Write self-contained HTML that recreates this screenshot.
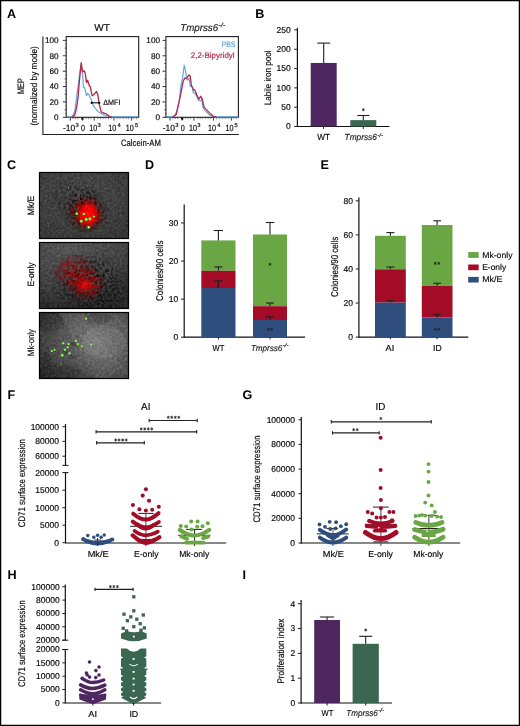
<!DOCTYPE html>
<html><head><meta charset="utf-8"><style>
html,body{margin:0;padding:0;background:#fff;width:520px;height:726px;overflow:hidden}
svg{display:block;font-family:"Liberation Sans", sans-serif;text-rendering:geometricPrecision;will-change:transform}
</style></head><body>
<svg width="520" height="726" viewBox="0 0 520 726">
<rect x="0" y="0" width="520" height="726" fill="#fff"/>
<text x="7" y="17.6" font-size="12.6" font-weight="bold" fill="#000" >A</text>
<text x="94.3" y="30.9" font-size="10" stroke="#231f20" stroke-width="0.18" textLength="15.6" lengthAdjust="spacingAndGlyphs" >WT</text>
<text x="180.2" y="31.2" font-size="10" font-style="italic" fill="#231f20" stroke="#231f20" stroke-width="0.18" textLength="38" lengthAdjust="spacingAndGlyphs">Tmprss6</text>
<text x="218.8" y="26.6" font-size="6" font-style="italic" stroke="#231f20" stroke-width="0.18" textLength="6.4" lengthAdjust="spacingAndGlyphs" >-/-</text>
<polyline points="42.9,36.6 42.9,134.5 238.9,134.5" fill="none" stroke="#231f20" stroke-width="1.1"/>
<text x="58.6" y="120.2" font-size="8.2" text-anchor="end" stroke="#231f20" stroke-width="0.18" >0</text>
<line x1="62.8" y1="117.3" x2="66.2" y2="117.3" stroke="#231f20" stroke-width="0.9" />
<line x1="64.6" y1="109.61" x2="66.2" y2="109.61" stroke="#231f20" stroke-width="0.8" />
<line x1="65" y1="113.45" x2="66.2" y2="113.45" stroke="#555" stroke-width="0.6" />
<line x1="65" y1="105.77" x2="66.2" y2="105.77" stroke="#555" stroke-width="0.6" />
<text x="58.6" y="104.82" font-size="8.2" text-anchor="end" stroke="#231f20" stroke-width="0.18" >20</text>
<line x1="62.8" y1="101.92" x2="66.2" y2="101.92" stroke="#231f20" stroke-width="0.9" />
<line x1="64.6" y1="94.23" x2="66.2" y2="94.23" stroke="#231f20" stroke-width="0.8" />
<line x1="65" y1="98.07" x2="66.2" y2="98.07" stroke="#555" stroke-width="0.6" />
<line x1="65" y1="90.39" x2="66.2" y2="90.39" stroke="#555" stroke-width="0.6" />
<text x="58.6" y="89.44" font-size="8.2" text-anchor="end" stroke="#231f20" stroke-width="0.18" >40</text>
<line x1="62.8" y1="86.54" x2="66.2" y2="86.54" stroke="#231f20" stroke-width="0.9" />
<line x1="64.6" y1="78.85" x2="66.2" y2="78.85" stroke="#231f20" stroke-width="0.8" />
<line x1="65" y1="82.69" x2="66.2" y2="82.69" stroke="#555" stroke-width="0.6" />
<line x1="65" y1="75.01" x2="66.2" y2="75.01" stroke="#555" stroke-width="0.6" />
<text x="58.6" y="74.06" font-size="8.2" text-anchor="end" stroke="#231f20" stroke-width="0.18" >60</text>
<line x1="62.8" y1="71.16" x2="66.2" y2="71.16" stroke="#231f20" stroke-width="0.9" />
<line x1="64.6" y1="63.47" x2="66.2" y2="63.47" stroke="#231f20" stroke-width="0.8" />
<line x1="65" y1="67.31" x2="66.2" y2="67.31" stroke="#555" stroke-width="0.6" />
<line x1="65" y1="59.63" x2="66.2" y2="59.63" stroke="#555" stroke-width="0.6" />
<text x="58.6" y="58.68" font-size="8.2" text-anchor="end" stroke="#231f20" stroke-width="0.18" >80</text>
<line x1="62.8" y1="55.78" x2="66.2" y2="55.78" stroke="#231f20" stroke-width="0.9" />
<line x1="64.6" y1="48.09" x2="66.2" y2="48.09" stroke="#231f20" stroke-width="0.8" />
<line x1="65" y1="51.93" x2="66.2" y2="51.93" stroke="#555" stroke-width="0.6" />
<line x1="65" y1="44.25" x2="66.2" y2="44.25" stroke="#555" stroke-width="0.6" />
<text x="58.6" y="43.3" font-size="8.2" text-anchor="end" stroke="#231f20" stroke-width="0.18" >100</text>
<line x1="62.8" y1="40.4" x2="66.2" y2="40.4" stroke="#231f20" stroke-width="0.9" />
<line x1="70.3" y1="117.3" x2="70.3" y2="120.6" stroke="#231f20" stroke-width="0.9" />
<line x1="82.4" y1="117.3" x2="82.4" y2="120.6" stroke="#231f20" stroke-width="0.9" />
<line x1="94.2" y1="117.3" x2="94.2" y2="120.6" stroke="#231f20" stroke-width="0.9" />
<line x1="113.9" y1="117.3" x2="113.9" y2="120.6" stroke="#231f20" stroke-width="0.9" />
<line x1="131.6" y1="117.3" x2="131.6" y2="120.6" stroke="#231f20" stroke-width="0.9" />
<line x1="73" y1="117.3" x2="73" y2="119.2" stroke="#444" stroke-width="0.6" />
<line x1="75.5" y1="117.3" x2="75.5" y2="119.2" stroke="#444" stroke-width="0.6" />
<line x1="78" y1="117.3" x2="78" y2="119.2" stroke="#444" stroke-width="0.6" />
<line x1="86" y1="117.3" x2="86" y2="119.2" stroke="#444" stroke-width="0.6" />
<line x1="88.5" y1="117.3" x2="88.5" y2="119.2" stroke="#444" stroke-width="0.6" />
<line x1="91" y1="117.3" x2="91" y2="119.2" stroke="#444" stroke-width="0.6" />
<line x1="98" y1="117.3" x2="98" y2="119.2" stroke="#444" stroke-width="0.6" />
<line x1="100.5" y1="117.3" x2="100.5" y2="119.2" stroke="#444" stroke-width="0.6" />
<line x1="103" y1="117.3" x2="103" y2="119.2" stroke="#444" stroke-width="0.6" />
<line x1="106" y1="117.3" x2="106" y2="119.2" stroke="#444" stroke-width="0.6" />
<line x1="108.5" y1="117.3" x2="108.5" y2="119.2" stroke="#444" stroke-width="0.6" />
<line x1="111" y1="117.3" x2="111" y2="119.2" stroke="#444" stroke-width="0.6" />
<line x1="117" y1="117.3" x2="117" y2="119.2" stroke="#444" stroke-width="0.6" />
<line x1="120" y1="117.3" x2="120" y2="119.2" stroke="#444" stroke-width="0.6" />
<line x1="123" y1="117.3" x2="123" y2="119.2" stroke="#444" stroke-width="0.6" />
<line x1="126" y1="117.3" x2="126" y2="119.2" stroke="#444" stroke-width="0.6" />
<line x1="128.5" y1="117.3" x2="128.5" y2="119.2" stroke="#444" stroke-width="0.6" />
<line x1="134" y1="117.3" x2="134" y2="119.2" stroke="#444" stroke-width="0.6" />
<line x1="136.5" y1="117.3" x2="136.5" y2="119.2" stroke="#444" stroke-width="0.6" />
<rect x="81.4" y="117.6" width="2.2" height="2" fill="#000" />
<text x="63" y="131.2" font-size="9" stroke="#231f20" stroke-width="0.18" textLength="12.2" lengthAdjust="spacingAndGlyphs" >-10</text>
<text x="75.6" y="127.4" font-size="5.8" stroke="#231f20" stroke-width="0.18" >3</text>
<text x="81" y="131.2" font-size="9" stroke="#231f20" stroke-width="0.18" textLength="4" lengthAdjust="spacingAndGlyphs" >0</text>
<text x="89.2" y="131.2" font-size="9" stroke="#231f20" stroke-width="0.18" textLength="8" lengthAdjust="spacingAndGlyphs" >10</text>
<text x="97.5" y="127.4" font-size="5.8" stroke="#231f20" stroke-width="0.18" >3</text>
<text x="108.2" y="131.2" font-size="9" stroke="#231f20" stroke-width="0.18" textLength="8" lengthAdjust="spacingAndGlyphs" >10</text>
<text x="117.5" y="127.4" font-size="5.8" stroke="#231f20" stroke-width="0.18" >4</text>
<text x="125.7" y="131.2" font-size="9" stroke="#231f20" stroke-width="0.18" textLength="8" lengthAdjust="spacingAndGlyphs" >10</text>
<text x="134.9" y="127.4" font-size="5.8" stroke="#231f20" stroke-width="0.18" >5</text>
<text x="160" y="120.2" font-size="8.2" text-anchor="end" stroke="#231f20" stroke-width="0.18" >0</text>
<line x1="162.5" y1="117.3" x2="165.9" y2="117.3" stroke="#231f20" stroke-width="0.9" />
<line x1="164.3" y1="109.61" x2="165.9" y2="109.61" stroke="#231f20" stroke-width="0.8" />
<line x1="164.7" y1="113.45" x2="165.9" y2="113.45" stroke="#555" stroke-width="0.6" />
<line x1="164.7" y1="105.77" x2="165.9" y2="105.77" stroke="#555" stroke-width="0.6" />
<text x="160" y="104.82" font-size="8.2" text-anchor="end" stroke="#231f20" stroke-width="0.18" >20</text>
<line x1="162.5" y1="101.92" x2="165.9" y2="101.92" stroke="#231f20" stroke-width="0.9" />
<line x1="164.3" y1="94.23" x2="165.9" y2="94.23" stroke="#231f20" stroke-width="0.8" />
<line x1="164.7" y1="98.07" x2="165.9" y2="98.07" stroke="#555" stroke-width="0.6" />
<line x1="164.7" y1="90.39" x2="165.9" y2="90.39" stroke="#555" stroke-width="0.6" />
<text x="160" y="89.44" font-size="8.2" text-anchor="end" stroke="#231f20" stroke-width="0.18" >40</text>
<line x1="162.5" y1="86.54" x2="165.9" y2="86.54" stroke="#231f20" stroke-width="0.9" />
<line x1="164.3" y1="78.85" x2="165.9" y2="78.85" stroke="#231f20" stroke-width="0.8" />
<line x1="164.7" y1="82.69" x2="165.9" y2="82.69" stroke="#555" stroke-width="0.6" />
<line x1="164.7" y1="75.01" x2="165.9" y2="75.01" stroke="#555" stroke-width="0.6" />
<text x="160" y="74.06" font-size="8.2" text-anchor="end" stroke="#231f20" stroke-width="0.18" >60</text>
<line x1="162.5" y1="71.16" x2="165.9" y2="71.16" stroke="#231f20" stroke-width="0.9" />
<line x1="164.3" y1="63.47" x2="165.9" y2="63.47" stroke="#231f20" stroke-width="0.8" />
<line x1="164.7" y1="67.31" x2="165.9" y2="67.31" stroke="#555" stroke-width="0.6" />
<line x1="164.7" y1="59.63" x2="165.9" y2="59.63" stroke="#555" stroke-width="0.6" />
<text x="160" y="58.68" font-size="8.2" text-anchor="end" stroke="#231f20" stroke-width="0.18" >80</text>
<line x1="162.5" y1="55.78" x2="165.9" y2="55.78" stroke="#231f20" stroke-width="0.9" />
<line x1="164.3" y1="48.09" x2="165.9" y2="48.09" stroke="#231f20" stroke-width="0.8" />
<line x1="164.7" y1="51.93" x2="165.9" y2="51.93" stroke="#555" stroke-width="0.6" />
<line x1="164.7" y1="44.25" x2="165.9" y2="44.25" stroke="#555" stroke-width="0.6" />
<text x="160" y="43.3" font-size="8.2" text-anchor="end" stroke="#231f20" stroke-width="0.18" >100</text>
<line x1="162.5" y1="40.4" x2="165.9" y2="40.4" stroke="#231f20" stroke-width="0.9" />
<line x1="170" y1="117.3" x2="170" y2="120.6" stroke="#231f20" stroke-width="0.9" />
<line x1="182.1" y1="117.3" x2="182.1" y2="120.6" stroke="#231f20" stroke-width="0.9" />
<line x1="193.9" y1="117.3" x2="193.9" y2="120.6" stroke="#231f20" stroke-width="0.9" />
<line x1="213.6" y1="117.3" x2="213.6" y2="120.6" stroke="#231f20" stroke-width="0.9" />
<line x1="231.3" y1="117.3" x2="231.3" y2="120.6" stroke="#231f20" stroke-width="0.9" />
<line x1="172.7" y1="117.3" x2="172.7" y2="119.2" stroke="#444" stroke-width="0.6" />
<line x1="175.2" y1="117.3" x2="175.2" y2="119.2" stroke="#444" stroke-width="0.6" />
<line x1="177.7" y1="117.3" x2="177.7" y2="119.2" stroke="#444" stroke-width="0.6" />
<line x1="185.7" y1="117.3" x2="185.7" y2="119.2" stroke="#444" stroke-width="0.6" />
<line x1="188.2" y1="117.3" x2="188.2" y2="119.2" stroke="#444" stroke-width="0.6" />
<line x1="190.7" y1="117.3" x2="190.7" y2="119.2" stroke="#444" stroke-width="0.6" />
<line x1="197.7" y1="117.3" x2="197.7" y2="119.2" stroke="#444" stroke-width="0.6" />
<line x1="200.2" y1="117.3" x2="200.2" y2="119.2" stroke="#444" stroke-width="0.6" />
<line x1="202.7" y1="117.3" x2="202.7" y2="119.2" stroke="#444" stroke-width="0.6" />
<line x1="205.7" y1="117.3" x2="205.7" y2="119.2" stroke="#444" stroke-width="0.6" />
<line x1="208.2" y1="117.3" x2="208.2" y2="119.2" stroke="#444" stroke-width="0.6" />
<line x1="210.7" y1="117.3" x2="210.7" y2="119.2" stroke="#444" stroke-width="0.6" />
<line x1="216.7" y1="117.3" x2="216.7" y2="119.2" stroke="#444" stroke-width="0.6" />
<line x1="219.7" y1="117.3" x2="219.7" y2="119.2" stroke="#444" stroke-width="0.6" />
<line x1="222.7" y1="117.3" x2="222.7" y2="119.2" stroke="#444" stroke-width="0.6" />
<line x1="225.7" y1="117.3" x2="225.7" y2="119.2" stroke="#444" stroke-width="0.6" />
<line x1="228.2" y1="117.3" x2="228.2" y2="119.2" stroke="#444" stroke-width="0.6" />
<line x1="233.7" y1="117.3" x2="233.7" y2="119.2" stroke="#444" stroke-width="0.6" />
<line x1="236.2" y1="117.3" x2="236.2" y2="119.2" stroke="#444" stroke-width="0.6" />
<rect x="181.1" y="117.6" width="2.2" height="2" fill="#000" />
<text x="162.7" y="131.2" font-size="9" stroke="#231f20" stroke-width="0.18" textLength="12.2" lengthAdjust="spacingAndGlyphs" >-10</text>
<text x="175.3" y="127.4" font-size="5.8" stroke="#231f20" stroke-width="0.18" >3</text>
<text x="180.7" y="131.2" font-size="9" stroke="#231f20" stroke-width="0.18" textLength="4" lengthAdjust="spacingAndGlyphs" >0</text>
<text x="188.9" y="131.2" font-size="9" stroke="#231f20" stroke-width="0.18" textLength="8" lengthAdjust="spacingAndGlyphs" >10</text>
<text x="197.2" y="127.4" font-size="5.8" stroke="#231f20" stroke-width="0.18" >3</text>
<text x="207.9" y="131.2" font-size="9" stroke="#231f20" stroke-width="0.18" textLength="8" lengthAdjust="spacingAndGlyphs" >10</text>
<text x="217.2" y="127.4" font-size="5.8" stroke="#231f20" stroke-width="0.18" >4</text>
<text x="225.4" y="131.2" font-size="9" stroke="#231f20" stroke-width="0.18" textLength="8" lengthAdjust="spacingAndGlyphs" >10</text>
<text x="234.6" y="127.4" font-size="5.8" stroke="#231f20" stroke-width="0.18" >5</text>
<text transform="translate(24.3 93.9) rotate(-90)" x="0" y="0" font-size="9.3" stroke="#231f20" stroke-width="0.18" textLength="15.6" lengthAdjust="spacingAndGlyphs" >MEP</text>
<text transform="translate(36.7 125.5) rotate(-90)" x="0" y="0" font-size="9.2" stroke="#231f20" stroke-width="0.18" textLength="79.3" lengthAdjust="spacingAndGlyphs" >(normalized by mode)</text>
<text x="121" y="145.6" font-size="9.2" stroke="#231f20" stroke-width="0.18" textLength="39.8" lengthAdjust="spacingAndGlyphs" >Calcein-AM</text>
<rect x="66.2" y="36.6" width="72.5" height="80.7" fill="none" stroke="#231f20" stroke-width="1.1"/>
<rect x="165.9" y="36.6" width="72.5" height="80.7" fill="none" stroke="#231f20" stroke-width="1.1"/>
<polyline points="66.7,116.9 71.3,116.9 73.5,114.5 75,109.7 76.5,98 78.6,82 80.9,64.8 82.6,73.4 83.4,87.2 84.3,87.2 85.3,90.3 86.5,95.7 87.6,93.4 88.8,94.2 90.3,98 91,98.7 93.2,105.3 95.5,108.5 97.6,111.2 100,112.8 102,114 105,115.3 107.8,116.3 110.8,116.9 138.3,116.9" fill="none" stroke="#5ba4e0" stroke-width="1.15" stroke-linejoin="round" />
<polyline points="72,117.2 74.5,115.5 75.7,111.5 77,105 78,98 79.5,80 81.2,62.6 82.6,71.8 83.8,70.7 84.5,71.5 85.3,73.4 86.5,82.6 87.6,80.3 88.4,82.6 89.2,85.7 90.3,86.8 92.2,95.7 94.2,94.2 96.5,91.5 97.6,94.2 98.4,98 99.1,103.8 101.3,111.9 104,113.2 106.4,114 109.3,116.3 111.5,117.2" fill="none" stroke="#b42844" stroke-width="1.3" stroke-linejoin="round" />
<polyline points="166.4,116.9 171.8,116.9 175,115.5 177,110 179.3,100.4 181,85.4 182.7,77.3 184.2,65.2 185.4,70.4 186.8,79 187.9,80.2 189.1,78.5 190.2,86.5 192,86.5 193.1,92.3 194.8,93.4 196.6,95.8 198.3,100.4 200.6,101 201.8,99.2 202.9,107.3 205.2,110.8 208.7,114.2 212.2,116.5 215,116.9 238.2,116.9" fill="none" stroke="#5ba4e0" stroke-width="1.15" stroke-linejoin="round" />
<polyline points="172.9,117.2 176.4,114.2 178.7,103.8 181,92.3 183.3,80.8 185,77.9 186.8,78.5 188,76.5 189.1,75 190.2,76.2 191.4,85.4 193.7,90 194.8,90 196.6,94.6 198.9,99.2 200.6,96.3 202.3,99.2 204.1,107.3 206.4,109.6 209.8,113.1 213.3,116.5 216,117.2" fill="none" stroke="#b42844" stroke-width="1.3" stroke-linejoin="round" />
<line x1="91.3" y1="102.8" x2="99.6" y2="102.8" stroke="#000" stroke-width="1" />
<circle cx="91.6" cy="102.8" r="1.1" fill="#000"/>
<circle cx="99.3" cy="102.8" r="1.1" fill="#000"/>
<text x="103.3" y="105.2" font-size="7.8" stroke="#231f20" stroke-width="0.18" textLength="17.2" lengthAdjust="spacingAndGlyphs" >&#916;MFI</text>
<text x="221.8" y="46.7" font-size="8" fill="#5ba4e0" stroke="#5ba4e0" stroke-width="0.18" textLength="13.4" lengthAdjust="spacingAndGlyphs" >PBS</text>
<text x="190.8" y="58.4" font-size="8" fill="#b42844" stroke="#b42844" stroke-width="0.18" textLength="43.8" lengthAdjust="spacingAndGlyphs" >2,2-Bipyridyl</text>
<text x="255.2" y="17.6" font-size="12.6" font-weight="bold" fill="#000" >B</text>
<line x1="297.4" y1="27.8" x2="297.4" y2="127" stroke="#111" stroke-width="1.2" />
<line x1="296.9" y1="126.5" x2="389.5" y2="126.5" stroke="#111" stroke-width="1.2" />
<line x1="294.2" y1="126.5" x2="297.4" y2="126.5" stroke="#231f20" stroke-width="1" />
<text x="290.7" y="129.4" font-size="8.5" text-anchor="end" stroke="#231f20" stroke-width="0.18" >0</text>
<line x1="294.2" y1="107.18" x2="297.4" y2="107.18" stroke="#231f20" stroke-width="1" />
<text x="290.7" y="110.08" font-size="8.5" text-anchor="end" stroke="#231f20" stroke-width="0.18" >50</text>
<line x1="294.2" y1="87.86" x2="297.4" y2="87.86" stroke="#231f20" stroke-width="1" />
<text x="290.7" y="90.76" font-size="8.5" text-anchor="end" stroke="#231f20" stroke-width="0.18" >100</text>
<line x1="294.2" y1="68.54" x2="297.4" y2="68.54" stroke="#231f20" stroke-width="1" />
<text x="290.7" y="71.44" font-size="8.5" text-anchor="end" stroke="#231f20" stroke-width="0.18" >150</text>
<line x1="294.2" y1="49.22" x2="297.4" y2="49.22" stroke="#231f20" stroke-width="1" />
<text x="290.7" y="52.12" font-size="8.5" text-anchor="end" stroke="#231f20" stroke-width="0.18" >200</text>
<line x1="294.2" y1="29.9" x2="297.4" y2="29.9" stroke="#231f20" stroke-width="1" />
<text x="290.7" y="32.8" font-size="8.5" text-anchor="end" stroke="#231f20" stroke-width="0.18" >250</text>
<rect x="310.7" y="62.94" width="26" height="63.56" fill="#4e2760" />
<rect x="350.3" y="120.12" width="26" height="6.38" fill="#3a6652" />
<line x1="323.7" y1="62.94" x2="323.7" y2="43.1" stroke="#231f20" stroke-width="1.1" />
<line x1="317.3" y1="43.1" x2="330.3" y2="43.1" stroke="#231f20" stroke-width="1.1" />
<line x1="363.3" y1="120.12" x2="363.3" y2="115.5" stroke="#231f20" stroke-width="1.1" />
<line x1="357.3" y1="115.5" x2="369.3" y2="115.5" stroke="#231f20" stroke-width="1.1" />
<path d="M363.3 108.55 l0 2.3 M362.3 109.12 l2 1.16 M362.3 110.28 l2 -1.16" stroke="#231f20" stroke-width="0.75" stroke-linecap="round"/>
<line x1="323.5" y1="126.5" x2="323.5" y2="128.9" stroke="#231f20" stroke-width="1" />
<line x1="363.3" y1="126.5" x2="363.3" y2="128.9" stroke="#231f20" stroke-width="1" />
<text x="317.2" y="140.4" font-size="8.8" stroke="#231f20" stroke-width="0.18" textLength="12.8" lengthAdjust="spacingAndGlyphs" >WT</text>
<text x="344.6" y="140.4" font-size="8.8" font-style="italic" fill="#231f20" stroke="#231f20" stroke-width="0.18" textLength="32.2" lengthAdjust="spacingAndGlyphs">Tmprss6</text>
<text x="377.2" y="136.6" font-size="5.2" font-style="italic" stroke="#231f20" stroke-width="0.18" textLength="5.8" lengthAdjust="spacingAndGlyphs" >-/-</text>
<text transform="translate(271.4 105.2) rotate(-90)" x="0" y="0" font-size="9.3" stroke="#231f20" stroke-width="0.18" textLength="54.6" lengthAdjust="spacingAndGlyphs" >Labile iron pool</text>
<text x="7" y="168.9" font-size="12.6" font-weight="bold" fill="#000" >C</text>
<defs>
<filter id="tex" x="0" y="0" width="100%" height="100%" color-interpolation-filters="sRGB">
<feTurbulence type="fractalNoise" baseFrequency="0.4" numOctaves="3" seed="4" result="t"/>
<feColorMatrix in="t" type="matrix" values="1 0 0 0 0  1 0 0 0 0  1 0 0 0 0  0 0 0 0 1" result="g"/>
<feComposite in="SourceGraphic" in2="g" operator="arithmetic" k1="0" k2="1" k3="0.2" k4="-0.1"/>
</filter>
<filter id="speck" x="-20%" y="-20%" width="140%" height="140%" color-interpolation-filters="sRGB">
<feTurbulence type="fractalNoise" baseFrequency="0.36" numOctaves="2" seed="5" result="n"/>
<feColorMatrix in="n" type="matrix" values="0 0 0 0 0  0 0 0 0 0  0 0 0 0 0  3.4 0 0 0 -1.35" result="a"/>
<feComposite in="SourceGraphic" in2="a" operator="in"/>
</filter>
<filter id="speck2" x="-20%" y="-20%" width="140%" height="140%" color-interpolation-filters="sRGB">
<feTurbulence type="fractalNoise" baseFrequency="0.27" numOctaves="2" seed="11" result="n"/>
<feColorMatrix in="n" type="matrix" values="0 0 0 0 0  0 0 0 0 0  0 0 0 0 0  3.0 0 0 0 -1.0" result="a"/>
<feComposite in="SourceGraphic" in2="a" operator="in"/>
</filter>
<radialGradient id="bg1" cx="0.45" cy="0.35" r="0.8"><stop offset="0" stop-color="#4c4c4c"/><stop offset="1" stop-color="#353535"/></radialGradient>
<radialGradient id="bg2" cx="0.35" cy="0.05" r="1.0"><stop offset="0" stop-color="#565656"/><stop offset="0.6" stop-color="#434343"/><stop offset="1" stop-color="#262626"/></radialGradient>
<radialGradient id="bg3" cx="0.66" cy="0.42" r="0.8"><stop offset="0" stop-color="#727272"/><stop offset="0.5" stop-color="#575757"/><stop offset="1" stop-color="#2e2e2e"/></radialGradient>
<radialGradient id="dk" cx="0.5" cy="0.5" r="0.5"><stop offset="0" stop-color="#000" stop-opacity="0.75"/><stop offset="0.6" stop-color="#000" stop-opacity="0.55"/><stop offset="1" stop-color="#000" stop-opacity="0"/></radialGradient>
<radialGradient id="rh" cx="0.5" cy="0.5" r="0.5"><stop offset="0" stop-color="#d00000" stop-opacity="1"/><stop offset="0.55" stop-color="#a00000" stop-opacity="0.85"/><stop offset="1" stop-color="#600000" stop-opacity="0"/></radialGradient>
<radialGradient id="rc" cx="0.5" cy="0.5" r="0.5"><stop offset="0" stop-color="#ff0a0a"/><stop offset="0.6" stop-color="#f00000" stop-opacity="0.95"/><stop offset="1" stop-color="#c00000" stop-opacity="0"/></radialGradient>
<radialGradient id="rc2" cx="0.5" cy="0.5" r="0.5"><stop offset="0" stop-color="#ff1010"/><stop offset="0.5" stop-color="#e00000" stop-opacity="0.85"/><stop offset="1" stop-color="#a00000" stop-opacity="0"/></radialGradient>
<radialGradient id="gd" cx="0.5" cy="0.5" r="0.5"><stop offset="0" stop-color="#b0ff80"/><stop offset="0.6" stop-color="#78e63c"/><stop offset="1" stop-color="#55b52a" stop-opacity="0.4"/></radialGradient>
<clipPath id="cp1"><rect x="39" y="172" width="90" height="67"/></clipPath>
<clipPath id="cp2"><rect x="39" y="242" width="90" height="67"/></clipPath>
<clipPath id="cp3"><rect x="39" y="312" width="90" height="67"/></clipPath>
</defs>
<g clip-path="url(#cp1)"><g filter="url(#tex)">
<rect x="39" y="172" width="90" height="67" fill="url(#bg1)" />
<ellipse cx="74" cy="198" rx="30" ry="22" fill="url(#dk)" filter="url(#speck)" opacity="0.55"/>
<ellipse cx="86" cy="211" rx="25" ry="25" fill="url(#dk)" filter="url(#speck)"/>
<ellipse cx="86.5" cy="213" rx="20" ry="20" fill="url(#rh)" filter="url(#speck2)"/>
<ellipse cx="88" cy="214.5" rx="12" ry="14" fill="url(#rc)"/>
</g>
<circle cx="76.8" cy="213.6" r="1.7" fill="url(#gd)"/>
<circle cx="83.8" cy="214" r="1.7" fill="url(#gd)"/>
<circle cx="93.8" cy="216.6" r="1.3" fill="url(#gd)"/>
<circle cx="81.3" cy="221.3" r="1.8" fill="url(#gd)"/>
<circle cx="86.2" cy="219.4" r="1.9" fill="url(#gd)"/>
<circle cx="89.9" cy="218.9" r="1.9" fill="url(#gd)"/>
<circle cx="88.7" cy="227.3" r="1.7" fill="url(#gd)"/>
<circle cx="68.6" cy="187.6" r="0.55" fill="url(#gd)"/>
</g>
<rect x="39.5" y="172.5" width="89" height="66" fill="none" stroke="#000" stroke-width="1.2"/>
<g clip-path="url(#cp2)"><g filter="url(#tex)">
<rect x="39" y="242" width="90" height="67" fill="url(#bg2)" />
<ellipse cx="90" cy="283" rx="40" ry="33" fill="url(#dk)" filter="url(#speck)"/>
<ellipse cx="74" cy="272" rx="23" ry="19" fill="url(#rh)" filter="url(#speck2)" opacity="0.75"/>
<ellipse cx="86" cy="284" rx="21" ry="18" fill="url(#rh)" filter="url(#speck2)" opacity="0.9"/>
<ellipse cx="86" cy="286" rx="13" ry="11" fill="url(#rc2)" filter="url(#speck)" opacity="0.85"/>
<ellipse cx="85" cy="285" rx="7" ry="6" fill="url(#rc2)" opacity="0.6"/>
</g></g>
<rect x="39.5" y="242.5" width="89" height="66" fill="none" stroke="#000" stroke-width="1.2"/>
<g clip-path="url(#cp3)"><g filter="url(#tex)">
<rect x="39" y="312" width="90" height="67" fill="url(#bg3)" />
<path d="M60 312 Q75 340 95 379 L129 379 L129 372 Q100 345 82 312 Z" fill="#fff" opacity="0.05"/>
<ellipse cx="73" cy="344" rx="3" ry="2.5" fill="#000" opacity="0.22"/>
<ellipse cx="66" cy="352" rx="2.5" ry="2" fill="#000" opacity="0.2"/>
<ellipse cx="72" cy="357" rx="3" ry="2.2" fill="#000" opacity="0.2"/>
<ellipse cx="77" cy="337" rx="2" ry="1.6" fill="#000" opacity="0.15"/>
<ellipse cx="50" cy="322" rx="14" ry="10" fill="#000" opacity="0.14"/>
<ellipse cx="60" cy="372" rx="22" ry="8" fill="#000" opacity="0.16"/>
<ellipse cx="45" cy="360" rx="6" ry="8" fill="#000" opacity="0.15"/>
<ellipse cx="98" cy="318" rx="14" ry="6" fill="#000" opacity="0.12"/>
<ellipse cx="104" cy="342" rx="22" ry="17" fill="#fff" opacity="0.07"/>
<path d="M95 379 Q105 360 129 352" fill="none" stroke="#9a9a9a" stroke-width="0.8" opacity="0.35"/>
<path d="M100 379 Q110 364 129 358" fill="none" stroke="#9a9a9a" stroke-width="0.8" opacity="0.35"/>
<path d="M106 379 Q114 368 129 364" fill="none" stroke="#9a9a9a" stroke-width="0.8" opacity="0.35"/>
<path d="M88 312 Q95 330 112 338" fill="none" stroke="#9a9a9a" stroke-width="0.8" opacity="0.35"/>
<path d="M115 312 Q118 325 129 330" fill="none" stroke="#9a9a9a" stroke-width="0.8" opacity="0.35"/>
</g>
<circle cx="86.1" cy="318.5" r="1.6" fill="url(#gd)"/>
<circle cx="63.3" cy="343.3" r="1.5" fill="url(#gd)"/>
<circle cx="68.6" cy="344" r="1.4" fill="url(#gd)"/>
<circle cx="75.7" cy="341" r="1.4" fill="url(#gd)"/>
<circle cx="77.8" cy="344.1" r="1.3" fill="url(#gd)"/>
<circle cx="67.7" cy="347.2" r="1.3" fill="url(#gd)"/>
<circle cx="81.7" cy="346.3" r="1.3" fill="url(#gd)"/>
<circle cx="91.1" cy="344.5" r="1.3" fill="url(#gd)"/>
<circle cx="64.9" cy="349.8" r="1.4" fill="url(#gd)"/>
<circle cx="54.5" cy="349.8" r="1.3" fill="url(#gd)"/>
<circle cx="51.8" cy="351" r="1.3" fill="url(#gd)"/>
<circle cx="69.5" cy="353.3" r="1.5" fill="url(#gd)"/>
<circle cx="62.2" cy="355.3" r="1.8" fill="url(#gd)"/>
<circle cx="61" cy="364.5" r="0.7" fill="url(#gd)"/>
</g>
<rect x="39.5" y="312.5" width="89" height="66" fill="none" stroke="#000" stroke-width="1.2"/>
<text transform="translate(34.2 215.3) rotate(-90)" x="0" y="0" font-size="9.2" stroke="#231f20" stroke-width="0.18" textLength="19.7" lengthAdjust="spacingAndGlyphs" >Mk/E</text>
<text transform="translate(34 286.6) rotate(-90)" x="0" y="0" font-size="9.2" stroke="#231f20" stroke-width="0.18" textLength="24.2" lengthAdjust="spacingAndGlyphs" >E-only</text>
<text transform="translate(34 356) rotate(-90)" x="0" y="0" font-size="9.2" stroke="#231f20" stroke-width="0.18" textLength="26.8" lengthAdjust="spacingAndGlyphs" >Mk-only</text>
<text x="145" y="168.8" font-size="12.6" font-weight="bold" fill="#000" >D</text>
<line x1="184.2" y1="204.5" x2="184.2" y2="337.7" stroke="#111" stroke-width="1.2" />
<line x1="183.7" y1="337.2" x2="305" y2="337.2" stroke="#111" stroke-width="1.2" />
<line x1="181" y1="337.2" x2="184.2" y2="337.2" stroke="#231f20" stroke-width="1" />
<text x="178.2" y="340" font-size="8.5" text-anchor="end" stroke="#231f20" stroke-width="0.18" >0</text>
<line x1="181" y1="299.13" x2="184.2" y2="299.13" stroke="#231f20" stroke-width="1" />
<text x="178.2" y="301.93" font-size="8.5" text-anchor="end" stroke="#231f20" stroke-width="0.18" >10</text>
<line x1="181" y1="261.06" x2="184.2" y2="261.06" stroke="#231f20" stroke-width="1" />
<text x="178.2" y="263.86" font-size="8.5" text-anchor="end" stroke="#231f20" stroke-width="0.18" >20</text>
<line x1="181" y1="222.99" x2="184.2" y2="222.99" stroke="#231f20" stroke-width="1" />
<text x="178.2" y="225.79" font-size="8.5" text-anchor="end" stroke="#231f20" stroke-width="0.18" >30</text>
<rect x="201.3" y="240.4" width="34.2" height="30.4" fill="#6aa744" />
<rect x="201.3" y="270.8" width="34.2" height="17.2" fill="#a30b26" />
<rect x="201.3" y="288" width="34.2" height="49.2" fill="#2f4d7d" />
<line x1="218.4" y1="240.4" x2="218.4" y2="230.5" stroke="#231f20" stroke-width="1.1" />
<line x1="213.8" y1="230.5" x2="223" y2="230.5" stroke="#231f20" stroke-width="1.1" />
<line x1="218.4" y1="270.8" x2="218.4" y2="266.9" stroke="#231f20" stroke-width="1.1" />
<line x1="214.4" y1="266.9" x2="222.4" y2="266.9" stroke="#231f20" stroke-width="1.1" />
<line x1="218.4" y1="288" x2="218.4" y2="280.8" stroke="#231f20" stroke-width="1.1" />
<line x1="214.4" y1="280.8" x2="222.4" y2="280.8" stroke="#231f20" stroke-width="1.1" />
<line x1="218.4" y1="280.8" x2="218.4" y2="287.6" stroke="#231f20" stroke-width="1.1" />
<rect x="253" y="234.5" width="34" height="71.7" fill="#6aa744" />
<rect x="253" y="306.2" width="34" height="13.8" fill="#a30b26" />
<rect x="253" y="320" width="34" height="17.2" fill="#2f4d7d" />
<line x1="270" y1="234.5" x2="270" y2="222.5" stroke="#231f20" stroke-width="1.1" />
<line x1="265.8" y1="222.5" x2="274.2" y2="222.5" stroke="#231f20" stroke-width="1.1" />
<line x1="270" y1="306.2" x2="270" y2="303" stroke="#231f20" stroke-width="1.1" />
<line x1="266" y1="303" x2="274" y2="303" stroke="#231f20" stroke-width="1.1" />
<line x1="270" y1="320" x2="270" y2="316.8" stroke="#231f20" stroke-width="1.1" />
<line x1="266" y1="316.8" x2="274" y2="316.8" stroke="#231f20" stroke-width="1.1" />
<path d="M270 263.15 l0 2.3 M269 263.72 l2 1.16 M269 264.88 l2 -1.16" stroke="#231f20" stroke-width="0.75" stroke-linecap="round"/>
<path d="M268.25 328.15 l0 2.3 M267.25 328.72 l2 1.16 M267.25 329.88 l2 -1.16" stroke="#231f20" stroke-width="0.75" stroke-linecap="round"/>
<path d="M271.75 328.15 l0 2.3 M270.75 328.72 l2 1.16 M270.75 329.88 l2 -1.16" stroke="#231f20" stroke-width="0.75" stroke-linecap="round"/>
<line x1="218.4" y1="337.2" x2="218.4" y2="339.4" stroke="#231f20" stroke-width="1" />
<line x1="270" y1="337.2" x2="270" y2="339.4" stroke="#231f20" stroke-width="1" />
<text x="212.6" y="350.6" font-size="8.6" stroke="#231f20" stroke-width="0.18" textLength="11.8" lengthAdjust="spacingAndGlyphs" >WT</text>
<text x="250.9" y="350.6" font-size="8.6" font-style="italic" fill="#231f20" stroke="#231f20" stroke-width="0.18" textLength="31.5" lengthAdjust="spacingAndGlyphs">Tmprss6</text>
<text x="282.7" y="346.8" font-size="5.2" font-style="italic" stroke="#231f20" stroke-width="0.18" textLength="5.8" lengthAdjust="spacingAndGlyphs" >-/-</text>
<text transform="translate(162.8 301.1) rotate(-90)" x="0" y="0" font-size="9.8" stroke="#231f20" stroke-width="0.18" textLength="60.6" lengthAdjust="spacingAndGlyphs" >Colonies/90 cells</text>
<text x="320.6" y="168.9" font-size="12.6" font-weight="bold" fill="#000" >E</text>
<line x1="358.9" y1="197.5" x2="358.9" y2="337.6" stroke="#111" stroke-width="1.2" />
<line x1="358.4" y1="337.1" x2="468.3" y2="337.1" stroke="#111" stroke-width="1.2" />
<line x1="355.7" y1="337.1" x2="358.9" y2="337.1" stroke="#231f20" stroke-width="1" />
<text x="353" y="339.9" font-size="8.5" text-anchor="end" stroke="#231f20" stroke-width="0.18" >0</text>
<line x1="355.7" y1="303.03" x2="358.9" y2="303.03" stroke="#231f20" stroke-width="1" />
<text x="353" y="305.83" font-size="8.5" text-anchor="end" stroke="#231f20" stroke-width="0.18" >20</text>
<line x1="355.7" y1="268.96" x2="358.9" y2="268.96" stroke="#231f20" stroke-width="1" />
<text x="353" y="271.76" font-size="8.5" text-anchor="end" stroke="#231f20" stroke-width="0.18" >40</text>
<line x1="355.7" y1="234.89" x2="358.9" y2="234.89" stroke="#231f20" stroke-width="1" />
<text x="353" y="237.69" font-size="8.5" text-anchor="end" stroke="#231f20" stroke-width="0.18" >60</text>
<line x1="355.7" y1="200.82" x2="358.9" y2="200.82" stroke="#231f20" stroke-width="1" />
<text x="353" y="203.62" font-size="8.5" text-anchor="end" stroke="#231f20" stroke-width="0.18" >80</text>
<rect x="375" y="235.8" width="30.8" height="33.5" fill="#6aa744" />
<rect x="375" y="269.3" width="30.8" height="33.3" fill="#a30b26" />
<rect x="375" y="302.6" width="30.8" height="34.5" fill="#2f4d7d" />
<line x1="390.4" y1="235.8" x2="390.4" y2="232.6" stroke="#231f20" stroke-width="1.1" />
<line x1="386.4" y1="232.6" x2="394.4" y2="232.6" stroke="#231f20" stroke-width="1.1" />
<line x1="390.4" y1="269.3" x2="390.4" y2="267" stroke="#231f20" stroke-width="1.1" />
<line x1="386.4" y1="267" x2="394.4" y2="267" stroke="#231f20" stroke-width="1.1" />
<line x1="390.4" y1="302.6" x2="390.4" y2="300.8" stroke="#231f20" stroke-width="1.1" />
<line x1="386.4" y1="300.8" x2="394.4" y2="300.8" stroke="#231f20" stroke-width="1.1" />
<rect x="421.8" y="225" width="30.7" height="60.8" fill="#6aa744" />
<rect x="421.8" y="285.8" width="30.7" height="31.7" fill="#a30b26" />
<rect x="421.8" y="317.5" width="30.7" height="19.6" fill="#2f4d7d" />
<line x1="437.15" y1="225" x2="437.15" y2="220.8" stroke="#231f20" stroke-width="1.1" />
<line x1="433.35" y1="220.8" x2="440.95" y2="220.8" stroke="#231f20" stroke-width="1.1" />
<line x1="437.15" y1="285.8" x2="437.15" y2="283.3" stroke="#231f20" stroke-width="1.1" />
<line x1="433.35" y1="283.3" x2="440.95" y2="283.3" stroke="#231f20" stroke-width="1.1" />
<line x1="437.15" y1="317.5" x2="437.15" y2="314.5" stroke="#231f20" stroke-width="1.1" />
<line x1="433.35" y1="314.5" x2="440.95" y2="314.5" stroke="#231f20" stroke-width="1.1" />
<path d="M435.25 262.25 l0 2.3 M434.25 262.82 l2 1.16 M434.25 263.98 l2 -1.16" stroke="#231f20" stroke-width="0.75" stroke-linecap="round"/>
<path d="M438.75 262.25 l0 2.3 M437.75 262.82 l2 1.16 M437.75 263.98 l2 -1.16" stroke="#231f20" stroke-width="0.75" stroke-linecap="round"/>
<path d="M435.39 328.15 l0 2.3 M434.39 328.72 l2 1.16 M434.39 329.88 l2 -1.16" stroke="#231f20" stroke-width="0.75" stroke-linecap="round"/>
<path d="M438.9 328.15 l0 2.3 M437.9 328.72 l2 1.16 M437.9 329.88 l2 -1.16" stroke="#231f20" stroke-width="0.75" stroke-linecap="round"/>
<line x1="390.4" y1="337.1" x2="390.4" y2="339.2" stroke="#231f20" stroke-width="1" />
<line x1="437.1" y1="337.1" x2="437.1" y2="339.2" stroke="#231f20" stroke-width="1" />
<text x="385.6" y="350.9" font-size="8.6" stroke="#231f20" stroke-width="0.18" textLength="8.6" lengthAdjust="spacingAndGlyphs" >AI</text>
<text x="433" y="350.9" font-size="8.6" stroke="#231f20" stroke-width="0.18" textLength="8.6" lengthAdjust="spacingAndGlyphs" >ID</text>
<text transform="translate(337.5 297) rotate(-90)" x="0" y="0" font-size="9.8" stroke="#231f20" stroke-width="0.18" textLength="60.3" lengthAdjust="spacingAndGlyphs" >Colonies/90 cells</text>
<rect x="468.2" y="252.1" width="10.5" height="5.8" fill="#6aa744" />
<rect x="468.2" y="264.5" width="10.5" height="5.7" fill="#a30b26" />
<rect x="468.2" y="276.9" width="10.5" height="5.6" fill="#2f4d7d" />
<text x="482.2" y="257.6" font-size="8.5" stroke="#231f20" stroke-width="0.18" textLength="30.3" lengthAdjust="spacingAndGlyphs" >Mk-only</text>
<text x="482.2" y="269.6" font-size="8.5" stroke="#231f20" stroke-width="0.18" textLength="24" lengthAdjust="spacingAndGlyphs" >E-only</text>
<text x="482.2" y="282" font-size="8.5" stroke="#231f20" stroke-width="0.18" textLength="20.3" lengthAdjust="spacingAndGlyphs" >Mk/E</text>
<text x="7.4" y="398.9" font-size="12.6" font-weight="bold" fill="#000" >F</text>
<line x1="65.5" y1="424" x2="65.5" y2="465.4" stroke="#111" stroke-width="1.2" />
<line x1="62.4" y1="465.4" x2="68.4" y2="465.4" stroke="#231f20" stroke-width="1.1" />
<line x1="62.4" y1="472.6" x2="68.4" y2="472.6" stroke="#231f20" stroke-width="1.1" />
<line x1="65.5" y1="472.6" x2="65.5" y2="543.2" stroke="#111" stroke-width="1.2" />
<line x1="65" y1="543" x2="226.2" y2="543" stroke="#111" stroke-width="1.2" />
<line x1="62.4" y1="426.7" x2="65.5" y2="426.7" stroke="#231f20" stroke-width="1" />
<text x="59" y="429.6" font-size="8.5" text-anchor="end" stroke="#231f20" stroke-width="0.18" >100000</text>
<line x1="62.4" y1="441.4" x2="65.5" y2="441.4" stroke="#231f20" stroke-width="1" />
<text x="59" y="444.3" font-size="8.5" text-anchor="end" stroke="#231f20" stroke-width="0.18" >80000</text>
<line x1="62.4" y1="456.2" x2="65.5" y2="456.2" stroke="#231f20" stroke-width="1" />
<text x="59" y="459.1" font-size="8.5" text-anchor="end" stroke="#231f20" stroke-width="0.18" >60000</text>
<text x="59" y="475.5" font-size="8.5" text-anchor="end" stroke="#231f20" stroke-width="0.18" >20000</text>
<line x1="62.4" y1="542.7" x2="65.5" y2="542.7" stroke="#231f20" stroke-width="1" />
<text x="59" y="545.6" font-size="8.5" text-anchor="end" stroke="#231f20" stroke-width="0.18" >0</text>
<line x1="62.4" y1="525.2" x2="65.5" y2="525.2" stroke="#231f20" stroke-width="1" />
<text x="59" y="528.1" font-size="8.5" text-anchor="end" stroke="#231f20" stroke-width="0.18" >5000</text>
<line x1="62.4" y1="507.7" x2="65.5" y2="507.7" stroke="#231f20" stroke-width="1" />
<text x="59" y="510.6" font-size="8.5" text-anchor="end" stroke="#231f20" stroke-width="0.18" >10000</text>
<line x1="62.4" y1="490.2" x2="65.5" y2="490.2" stroke="#231f20" stroke-width="1" />
<text x="59" y="493.1" font-size="8.5" text-anchor="end" stroke="#231f20" stroke-width="0.18" >15000</text>
<text x="145.7" y="409.8" font-size="10.2" text-anchor="middle" stroke="#231f20" stroke-width="0.18" textLength="9.4" lengthAdjust="spacingAndGlyphs" >AI</text>
<line x1="149.2" y1="420.5" x2="197.2" y2="420.5" stroke="#231f20" stroke-width="1.2" />
<line x1="149.2" y1="418.8" x2="149.2" y2="422.2" stroke="#231f20" stroke-width="1.1" />
<line x1="197.2" y1="418.8" x2="197.2" y2="422.2" stroke="#231f20" stroke-width="1.1" />
<path d="M168.24 416.15 l0 2.3 M167.24 416.72 l2 1.16 M167.24 417.88 l2 -1.16" stroke="#231f20" stroke-width="0.75" stroke-linecap="round"/>
<path d="M171.75 416.15 l0 2.3 M170.75 416.72 l2 1.16 M170.75 417.88 l2 -1.16" stroke="#231f20" stroke-width="0.75" stroke-linecap="round"/>
<path d="M175.25 416.15 l0 2.3 M174.25 416.72 l2 1.16 M174.25 417.88 l2 -1.16" stroke="#231f20" stroke-width="0.75" stroke-linecap="round"/>
<path d="M178.76 416.15 l0 2.3 M177.76 416.72 l2 1.16 M177.76 417.88 l2 -1.16" stroke="#231f20" stroke-width="0.75" stroke-linecap="round"/>
<line x1="96.1" y1="431.8" x2="196.7" y2="431.8" stroke="#231f20" stroke-width="1.2" />
<line x1="96.1" y1="430.1" x2="96.1" y2="433.5" stroke="#231f20" stroke-width="1.1" />
<line x1="196.7" y1="430.1" x2="196.7" y2="433.5" stroke="#231f20" stroke-width="1.1" />
<path d="M141.24 427.75 l0 2.3 M140.24 428.32 l2 1.16 M140.24 429.48 l2 -1.16" stroke="#231f20" stroke-width="0.75" stroke-linecap="round"/>
<path d="M144.75 427.75 l0 2.3 M143.75 428.32 l2 1.16 M143.75 429.48 l2 -1.16" stroke="#231f20" stroke-width="0.75" stroke-linecap="round"/>
<path d="M148.25 427.75 l0 2.3 M147.25 428.32 l2 1.16 M147.25 429.48 l2 -1.16" stroke="#231f20" stroke-width="0.75" stroke-linecap="round"/>
<path d="M151.76 427.75 l0 2.3 M150.76 428.32 l2 1.16 M150.76 429.48 l2 -1.16" stroke="#231f20" stroke-width="0.75" stroke-linecap="round"/>
<line x1="96.6" y1="442.8" x2="144.3" y2="442.8" stroke="#231f20" stroke-width="1.2" />
<line x1="96.6" y1="441.1" x2="96.6" y2="444.5" stroke="#231f20" stroke-width="1.1" />
<line x1="144.3" y1="441.1" x2="144.3" y2="444.5" stroke="#231f20" stroke-width="1.1" />
<path d="M115.64 438.85 l0 2.3 M114.64 439.42 l2 1.16 M114.64 440.58 l2 -1.16" stroke="#231f20" stroke-width="0.75" stroke-linecap="round"/>
<path d="M119.15 438.85 l0 2.3 M118.15 439.42 l2 1.16 M118.15 440.58 l2 -1.16" stroke="#231f20" stroke-width="0.75" stroke-linecap="round"/>
<path d="M122.66 438.85 l0 2.3 M121.66 439.42 l2 1.16 M121.66 440.58 l2 -1.16" stroke="#231f20" stroke-width="0.75" stroke-linecap="round"/>
<path d="M126.17 438.85 l0 2.3 M125.17 439.42 l2 1.16 M125.17 440.58 l2 -1.16" stroke="#231f20" stroke-width="0.75" stroke-linecap="round"/>
<text transform="translate(24.5 527.3) rotate(-90)" x="0" y="0" font-size="9.6" stroke="#231f20" stroke-width="0.18" textLength="88.3" lengthAdjust="spacingAndGlyphs" >CD71 surface expression</text>
<line x1="94.1" y1="540" x2="101.1" y2="540" stroke="#231f20" stroke-width="0.9" />
<line x1="97.6" y1="538" x2="97.6" y2="545.8" stroke="#231f20" stroke-width="0.9" />
<circle cx="87.8" cy="535.5" r="1.75" fill="#2f4d7d"/>
<circle cx="97.6" cy="535.3" r="1.75" fill="#2f4d7d"/>
<circle cx="104.2" cy="534.9" r="1.75" fill="#2f4d7d"/>
<circle cx="93.8" cy="537.2" r="1.75" fill="#2f4d7d"/>
<circle cx="101.1" cy="537.2" r="1.75" fill="#2f4d7d"/>
<circle cx="83.4" cy="538.8" r="1.75" fill="#2f4d7d"/>
<circle cx="111.8" cy="539.2" r="1.75" fill="#2f4d7d"/>
<path d="M82.9 539.4 Q90.98 542.6 97.6 542.6 Q104.35 542.6 112.6 539.6" fill="none" stroke="#2f4d7d" stroke-width="3.5" stroke-linecap="round" stroke-linejoin="round" />
<path d="M85.5 541.4 Q92.16 544 97.6 544 Q103.18 544 110 541.4" fill="none" stroke="#2f4d7d" stroke-width="2.8" stroke-linecap="round" stroke-linejoin="round" />
<line x1="130.1" y1="526.3" x2="161.9" y2="526.3" stroke="#231f20" stroke-width="1" />
<line x1="138.4" y1="513.4" x2="153.6" y2="513.4" stroke="#231f20" stroke-width="1" />
<line x1="141.2" y1="539.4" x2="150.9" y2="539.4" stroke="#231f20" stroke-width="1" />
<line x1="145.9" y1="513.4" x2="145.9" y2="546" stroke="#4a4a4a" stroke-width="1" />
<circle cx="145.9" cy="489.2" r="2.05" fill="#a30b26"/>
<circle cx="142.7" cy="495.6" r="2.05" fill="#a30b26"/>
<circle cx="149" cy="500.8" r="2.05" fill="#a30b26"/>
<circle cx="132.9" cy="505" r="2.05" fill="#a30b26"/>
<circle cx="158.8" cy="506.7" r="2.05" fill="#a30b26"/>
<circle cx="139.4" cy="509.2" r="2.05" fill="#a30b26"/>
<circle cx="145.9" cy="510.5" r="2.05" fill="#a30b26"/>
<circle cx="152.2" cy="509.8" r="2.05" fill="#a30b26"/>
<path d="M133.2 513.7 Q140.07 519.5 145.7 519.5 Q151.46 519.5 158.5 513.2" fill="none" stroke="#a30b26" stroke-width="4" stroke-linecap="round" stroke-linejoin="round" />
<path d="M132.8 521.6 Q139.9 527.4 145.7 527.4 Q151.59 527.4 158.8 522" fill="none" stroke="#a30b26" stroke-width="4" stroke-linecap="round" stroke-linejoin="round" />
<path d="M137.5 524.5 Q142.01 528.6 145.7 528.6 Q149.44 528.6 154 524.8" fill="none" stroke="#a30b26" stroke-width="4" stroke-linecap="round" stroke-linejoin="round" />
<path d="M134.6 531 Q140.7 535.3 145.7 535.3 Q151.15 535.3 157.8 531.7" fill="none" stroke="#a30b26" stroke-width="3.8" stroke-linecap="round" stroke-linejoin="round" />
<path d="M132.5 535.3 Q139.76 542 145.7 542 Q151.91 542 159.5 537.2" fill="none" stroke="#a30b26" stroke-width="4" stroke-linecap="round" stroke-linejoin="round" />
<path d="M137 539.5 Q141.78 543.2 145.7 543.2 Q149.88 543.2 155 540" fill="none" stroke="#a30b26" stroke-width="3.4" stroke-linecap="round" stroke-linejoin="round" />
<line x1="178.2" y1="535.4" x2="210.4" y2="535.4" stroke="#231f20" stroke-width="1" />
<line x1="186.2" y1="529.4" x2="202" y2="529.4" stroke="#231f20" stroke-width="1" />
<line x1="194.6" y1="529.4" x2="194.6" y2="546" stroke="#231f20" stroke-width="1" />
<line x1="97.6" y1="542.7" x2="97.6" y2="545.6" stroke="#231f20" stroke-width="1" />
<circle cx="191.2" cy="521.5" r="2" fill="#6aa744"/>
<circle cx="197.6" cy="521.5" r="2" fill="#6aa744"/>
<circle cx="207.8" cy="523.3" r="2" fill="#6aa744"/>
<circle cx="180.8" cy="526.1" r="2" fill="#6aa744"/>
<circle cx="186.2" cy="526.6" r="2" fill="#6aa744"/>
<circle cx="197.2" cy="526.8" r="2" fill="#6aa744"/>
<circle cx="202.5" cy="526.2" r="2" fill="#6aa744"/>
<circle cx="191.5" cy="529.5" r="2" fill="#6aa744"/>
<path d="M179.9 529.9 Q187.99 535.5 194.6 535.5 Q201.17 535.5 209.2 529.9" fill="none" stroke="#6aa744" stroke-width="4.2" stroke-linecap="round" stroke-linejoin="round" />
<line x1="181.3" y1="536.4" x2="187" y2="538.6" stroke="#6aa744" stroke-width="4" stroke-linecap="round"/>
<line x1="203.2" y1="538" x2="208.1" y2="536.5" stroke="#6aa744" stroke-width="4" stroke-linecap="round"/>
<line x1="186" y1="542.7" x2="203.8" y2="542.7" stroke="#6aa744" stroke-width="3.8" stroke-linecap="round"/>
<text x="87.7" y="556.8" font-size="8.7" stroke="#231f20" stroke-width="0.18" textLength="21" lengthAdjust="spacingAndGlyphs" >Mk/E</text>
<text x="133.9" y="556.8" font-size="8.7" stroke="#231f20" stroke-width="0.18" textLength="24.6" lengthAdjust="spacingAndGlyphs" >E-only</text>
<text x="179.2" y="556.8" font-size="8.7" stroke="#231f20" stroke-width="0.18" textLength="30" lengthAdjust="spacingAndGlyphs" >Mk-only</text>
<text x="242.4" y="398.9" font-size="12.6" font-weight="bold" fill="#000" >G</text>
<line x1="301.3" y1="416.9" x2="301.3" y2="543.5" stroke="#111" stroke-width="1.2" />
<line x1="300.8" y1="543" x2="460.2" y2="543" stroke="#111" stroke-width="1.2" />
<line x1="298.5" y1="543" x2="301.3" y2="543" stroke="#231f20" stroke-width="1" />
<text x="295" y="545.9" font-size="8.5" text-anchor="end" stroke="#231f20" stroke-width="0.18" >0</text>
<line x1="298.5" y1="518.36" x2="301.3" y2="518.36" stroke="#231f20" stroke-width="1" />
<text x="295" y="521.26" font-size="8.5" text-anchor="end" stroke="#231f20" stroke-width="0.18" >20000</text>
<line x1="298.5" y1="493.72" x2="301.3" y2="493.72" stroke="#231f20" stroke-width="1" />
<text x="295" y="496.62" font-size="8.5" text-anchor="end" stroke="#231f20" stroke-width="0.18" >40000</text>
<line x1="298.5" y1="469.08" x2="301.3" y2="469.08" stroke="#231f20" stroke-width="1" />
<text x="295" y="471.98" font-size="8.5" text-anchor="end" stroke="#231f20" stroke-width="0.18" >60000</text>
<line x1="298.5" y1="444.44" x2="301.3" y2="444.44" stroke="#231f20" stroke-width="1" />
<text x="295" y="447.34" font-size="8.5" text-anchor="end" stroke="#231f20" stroke-width="0.18" >80000</text>
<line x1="298.5" y1="419.8" x2="301.3" y2="419.8" stroke="#231f20" stroke-width="1" />
<text x="295" y="422.7" font-size="8.5" text-anchor="end" stroke="#231f20" stroke-width="0.18" >100000</text>
<text x="380.5" y="409.8" font-size="10.2" text-anchor="middle" stroke="#231f20" stroke-width="0.18" textLength="9.8" lengthAdjust="spacingAndGlyphs" >ID</text>
<line x1="331.3" y1="421.8" x2="431.2" y2="421.8" stroke="#231f20" stroke-width="1.2" />
<line x1="331.3" y1="420.1" x2="331.3" y2="423.5" stroke="#231f20" stroke-width="1.1" />
<line x1="431.2" y1="420.1" x2="431.2" y2="423.5" stroke="#231f20" stroke-width="1.1" />
<path d="M380.9 417.35 l0 2.3 M379.9 417.92 l2 1.16 M379.9 419.08 l2 -1.16" stroke="#231f20" stroke-width="0.75" stroke-linecap="round"/>
<line x1="332.5" y1="432.9" x2="379.2" y2="432.9" stroke="#231f20" stroke-width="1.2" />
<line x1="332.5" y1="431.2" x2="332.5" y2="434.6" stroke="#231f20" stroke-width="1.1" />
<line x1="379.2" y1="431.2" x2="379.2" y2="434.6" stroke="#231f20" stroke-width="1.1" />
<path d="M353.64 428.55 l0 2.3 M352.64 429.12 l2 1.16 M352.64 430.28 l2 -1.16" stroke="#231f20" stroke-width="0.75" stroke-linecap="round"/>
<path d="M357.15 428.55 l0 2.3 M356.15 429.12 l2 1.16 M356.15 430.28 l2 -1.16" stroke="#231f20" stroke-width="0.75" stroke-linecap="round"/>
<text transform="translate(259.5 522.6) rotate(-90)" x="0" y="0" font-size="9.6" stroke="#231f20" stroke-width="0.18" textLength="87.1" lengthAdjust="spacingAndGlyphs" >CD71 surface expression</text>
<line x1="316.9" y1="533.9" x2="348.7" y2="533.9" stroke="#231f20" stroke-width="1" />
<line x1="326.4" y1="528.4" x2="338.1" y2="528.4" stroke="#231f20" stroke-width="1" />
<line x1="330.8" y1="539.8" x2="335.2" y2="539.8" stroke="#231f20" stroke-width="1" />
<line x1="333" y1="528.4" x2="333" y2="546" stroke="#4a4a4a" stroke-width="1" />
<circle cx="329.7" cy="521.8" r="1.9" fill="#2f4d7d"/>
<circle cx="336.1" cy="522.2" r="1.9" fill="#2f4d7d"/>
<circle cx="319.5" cy="524.4" r="1.9" fill="#2f4d7d"/>
<circle cx="346.2" cy="524.2" r="1.9" fill="#2f4d7d"/>
<circle cx="325" cy="526.8" r="1.9" fill="#2f4d7d"/>
<circle cx="340.9" cy="526.2" r="1.9" fill="#2f4d7d"/>
<circle cx="330.2" cy="529" r="1.9" fill="#2f4d7d"/>
<circle cx="335.6" cy="528.4" r="1.9" fill="#2f4d7d"/>
<path d="M319.8 529.9 Q327.06 535.2 333 535.2 Q338.94 535.2 346.2 529.5" fill="none" stroke="#2f4d7d" stroke-width="4" stroke-linecap="round" stroke-linejoin="round" />
<path d="M319.8 537.6 Q327.06 542.6 333 542.6 Q338.94 542.6 346.2 537.6" fill="none" stroke="#2f4d7d" stroke-width="4" stroke-linecap="round" stroke-linejoin="round" />
<path d="M327.5 535.8 Q330.52 538.2 333 538.2 Q335.48 538.2 338.5 535.8" fill="none" stroke="#2f4d7d" stroke-width="2.6" stroke-linecap="round" stroke-linejoin="round" />
<line x1="364.9" y1="524.3" x2="396.7" y2="524.3" stroke="#231f20" stroke-width="1" />
<line x1="373" y1="507.1" x2="388.7" y2="507.1" stroke="#231f20" stroke-width="1" />
<line x1="373.3" y1="541.9" x2="388.3" y2="541.9" stroke="#231f20" stroke-width="1" />
<line x1="380.9" y1="507.1" x2="380.9" y2="546" stroke="#4a4a4a" stroke-width="1" />
<circle cx="380.6" cy="437.8" r="2" fill="#a30b26"/>
<circle cx="380.6" cy="470" r="2" fill="#a30b26"/>
<circle cx="380.6" cy="487.9" r="2" fill="#a30b26"/>
<circle cx="380.9" cy="500" r="2" fill="#a30b26"/>
<circle cx="380.9" cy="508.2" r="2" fill="#a30b26"/>
<circle cx="367.8" cy="511.9" r="2" fill="#a30b26"/>
<circle cx="372.2" cy="513.4" r="2" fill="#a30b26"/>
<circle cx="389.4" cy="511.9" r="2" fill="#a30b26"/>
<circle cx="393.4" cy="511.9" r="2" fill="#a30b26"/>
<circle cx="376.6" cy="517.4" r="2" fill="#a30b26"/>
<circle cx="380.9" cy="517.6" r="2" fill="#a30b26"/>
<circle cx="385" cy="516.9" r="2" fill="#a30b26"/>
<circle cx="369.3" cy="520.7" r="2" fill="#a30b26"/>
<circle cx="392" cy="520.3" r="2" fill="#a30b26"/>
<path d="M369.3 521 Q375.68 523.6 380.9 523.6 Q386.21 523.6 392.7 521" fill="none" stroke="#a30b26" stroke-width="4" stroke-linecap="round" stroke-linejoin="round" />
<path d="M366.6 526 Q374.46 527 380.9 527 Q387.42 527 395.4 526" fill="none" stroke="#a30b26" stroke-width="3.8" stroke-linecap="round" stroke-linejoin="round" />
<line x1="374.6" y1="530.8" x2="385.4" y2="530.8" stroke="#a30b26" stroke-width="3.6" stroke-linecap="round"/>
<path d="M365.5 532.4 Q373.97 538.6 380.9 538.6 Q387.69 538.6 396 532.4" fill="none" stroke="#a30b26" stroke-width="5" stroke-linecap="round" stroke-linejoin="round" />
<circle cx="378.8" cy="527.6" r="0.9" fill="#fff"/>
<line x1="412.6" y1="528.5" x2="444.4" y2="528.5" stroke="#231f20" stroke-width="1" />
<line x1="427.5" y1="515.3" x2="436" y2="515.3" stroke="#231f20" stroke-width="1" />
<line x1="428.9" y1="515.3" x2="428.9" y2="546" stroke="#3a3a3a" stroke-width="1" />
<circle cx="428.5" cy="464.1" r="1.95" fill="#6aa744"/>
<circle cx="428.5" cy="471.6" r="1.95" fill="#6aa744"/>
<circle cx="428.5" cy="482" r="1.95" fill="#6aa744"/>
<circle cx="428.5" cy="495.5" r="1.95" fill="#6aa744"/>
<circle cx="425.2" cy="502.6" r="1.95" fill="#6aa744"/>
<circle cx="431.7" cy="505.4" r="1.95" fill="#6aa744"/>
<circle cx="434.9" cy="512" r="1.95" fill="#6aa744"/>
<circle cx="415.6" cy="516" r="1.95" fill="#6aa744"/>
<circle cx="419.2" cy="515.6" r="1.95" fill="#6aa744"/>
<circle cx="422" cy="514.9" r="1.95" fill="#6aa744"/>
<circle cx="425.3" cy="515.6" r="1.95" fill="#6aa744"/>
<circle cx="431.7" cy="516" r="1.95" fill="#6aa744"/>
<circle cx="437.2" cy="516.6" r="1.95" fill="#6aa744"/>
<circle cx="441" cy="517" r="1.95" fill="#6aa744"/>
<path d="M415.6 522.3 Q422.92 525.3 428.9 525.3 Q434.88 525.3 442.2 522.3" fill="none" stroke="#6aa744" stroke-width="4.5" stroke-linecap="round" stroke-linejoin="round" />
<path d="M414.6 529.6 Q422.46 532.3 428.9 532.3 Q435.29 532.3 443.1 529.2" fill="none" stroke="#6aa744" stroke-width="4.8" stroke-linecap="round" stroke-linejoin="round" />
<rect x="421.7" y="532" width="13.9" height="5" fill="#6aa744" />
<path d="M414.6 537.2 Q422.46 542.2 428.9 542.2 Q435.29 542.2 443.1 537.2" fill="none" stroke="#6aa744" stroke-width="4.8" stroke-linecap="round" stroke-linejoin="round" />
<circle cx="427.2" cy="531.4" r="0.8" fill="#fff"/>
<circle cx="427.2" cy="538.7" r="0.8" fill="#fff"/>
<text x="322.8" y="557.4" font-size="8.7" stroke="#231f20" stroke-width="0.18" textLength="21" lengthAdjust="spacingAndGlyphs" >Mk/E</text>
<text x="368.3" y="557.4" font-size="8.7" stroke="#231f20" stroke-width="0.18" textLength="24.6" lengthAdjust="spacingAndGlyphs" >E-only</text>
<text x="413.3" y="557.4" font-size="8.7" stroke="#231f20" stroke-width="0.18" textLength="30" lengthAdjust="spacingAndGlyphs" >Mk-only</text>
<text x="7.4" y="578.9" font-size="12.6" font-weight="bold" fill="#000" >H</text>
<line x1="65.3" y1="584.5" x2="65.3" y2="640.2" stroke="#111" stroke-width="1.2" />
<line x1="62.2" y1="640.2" x2="68.2" y2="640.2" stroke="#231f20" stroke-width="1.1" />
<line x1="62.2" y1="649.5" x2="68.2" y2="649.5" stroke="#231f20" stroke-width="1.1" />
<line x1="65.3" y1="649.5" x2="65.3" y2="703.3" stroke="#111" stroke-width="1.2" />
<line x1="64.8" y1="703" x2="161.1" y2="703" stroke="#111" stroke-width="1.2" />
<line x1="62.4" y1="586.7" x2="65.3" y2="586.7" stroke="#231f20" stroke-width="1" />
<text x="59.7" y="589.6" font-size="8.5" text-anchor="end" stroke="#231f20" stroke-width="0.18" >100000</text>
<line x1="62.4" y1="600.1" x2="65.3" y2="600.1" stroke="#231f20" stroke-width="1" />
<text x="59.7" y="603" font-size="8.5" text-anchor="end" stroke="#231f20" stroke-width="0.18" >80000</text>
<line x1="62.4" y1="613.5" x2="65.3" y2="613.5" stroke="#231f20" stroke-width="1" />
<text x="59.7" y="616.4" font-size="8.5" text-anchor="end" stroke="#231f20" stroke-width="0.18" >60000</text>
<line x1="62.4" y1="626.8" x2="65.3" y2="626.8" stroke="#231f20" stroke-width="1" />
<text x="59.7" y="629.7" font-size="8.5" text-anchor="end" stroke="#231f20" stroke-width="0.18" >40000</text>
<line x1="62.4" y1="640.2" x2="65.3" y2="640.2" stroke="#231f20" stroke-width="1" />
<text x="59.7" y="643.1" font-size="8.5" text-anchor="end" stroke="#231f20" stroke-width="0.18" >20000</text>
<line x1="62.4" y1="702.9" x2="65.3" y2="702.9" stroke="#231f20" stroke-width="1" />
<text x="59.7" y="705.8" font-size="8.5" text-anchor="end" stroke="#231f20" stroke-width="0.18" >0</text>
<line x1="62.4" y1="689.55" x2="65.3" y2="689.55" stroke="#231f20" stroke-width="1" />
<text x="59.7" y="692.45" font-size="8.5" text-anchor="end" stroke="#231f20" stroke-width="0.18" >5000</text>
<line x1="62.4" y1="676.2" x2="65.3" y2="676.2" stroke="#231f20" stroke-width="1" />
<text x="59.7" y="679.1" font-size="8.5" text-anchor="end" stroke="#231f20" stroke-width="0.18" >10000</text>
<line x1="62.4" y1="662.85" x2="65.3" y2="662.85" stroke="#231f20" stroke-width="1" />
<text x="59.7" y="665.75" font-size="8.5" text-anchor="end" stroke="#231f20" stroke-width="0.18" >15000</text>
<line x1="62.4" y1="649.5" x2="65.3" y2="649.5" stroke="#231f20" stroke-width="1" />
<text x="59.7" y="652.4" font-size="8.5" text-anchor="end" stroke="#231f20" stroke-width="0.18" >20000</text>
<line x1="95" y1="589.4" x2="133.1" y2="589.4" stroke="#231f20" stroke-width="1.2" />
<line x1="95" y1="587.7" x2="95" y2="591.1" stroke="#231f20" stroke-width="1.1" />
<line x1="133.1" y1="587.7" x2="133.1" y2="591.1" stroke="#231f20" stroke-width="1.1" />
<path d="M110.39 585.45 l0 2.3 M109.39 586.02 l2 1.16 M109.39 587.18 l2 -1.16" stroke="#231f20" stroke-width="0.75" stroke-linecap="round"/>
<path d="M113.9 585.45 l0 2.3 M112.9 586.02 l2 1.16 M112.9 587.18 l2 -1.16" stroke="#231f20" stroke-width="0.75" stroke-linecap="round"/>
<path d="M117.41 585.45 l0 2.3 M116.41 586.02 l2 1.16 M116.41 587.18 l2 -1.16" stroke="#231f20" stroke-width="0.75" stroke-linecap="round"/>
<text transform="translate(24.5 687) rotate(-90)" x="0" y="0" font-size="9.6" stroke="#231f20" stroke-width="0.18" textLength="86.7" lengthAdjust="spacingAndGlyphs" >CD71 surface expression</text>
<line x1="79.2" y1="697.3" x2="106.2" y2="697.3" stroke="#231f20" stroke-width="1" />
<circle cx="89.5" cy="662" r="1.8" fill="#4e2760"/>
<circle cx="99" cy="667" r="1.8" fill="#4e2760"/>
<circle cx="95.9" cy="670.6" r="1.8" fill="#4e2760"/>
<circle cx="86.4" cy="673.1" r="1.8" fill="#4e2760"/>
<circle cx="87.2" cy="675" r="1.8" fill="#4e2760"/>
<circle cx="89.6" cy="677.1" r="1.8" fill="#4e2760"/>
<circle cx="99" cy="675" r="1.8" fill="#4e2760"/>
<circle cx="95.7" cy="677.6" r="1.8" fill="#4e2760"/>
<circle cx="82.3" cy="678.2" r="1.8" fill="#4e2760"/>
<path d="M82.3 678.6 Q88.13 682.5 92.9 682.5 Q97.76 682.5 103.7 680" fill="none" stroke="#4e2760" stroke-width="3.5" stroke-linecap="round" stroke-linejoin="round" />
<path d="M80.6 684.8 Q87.36 688.5 92.9 688.5 Q98.25 688.5 104.8 685.2" fill="none" stroke="#4e2760" stroke-width="3.6" stroke-linecap="round" stroke-linejoin="round" />
<path d="M80.6 689.8 Q87.36 693.8 92.9 693.8 Q98.25 693.8 104.8 689.8" fill="none" stroke="#4e2760" stroke-width="3.6" stroke-linecap="round" stroke-linejoin="round" />
<path d="M79.4 694.5 L106 694.5 L106 699.5 Q99 702 93 704.3 Q86 702 79.4 699.5 Z" fill="#4e2760"/>
<path d="M80.2 694.8 Q87.19 697 92.9 697 Q98.44 697 105.2 694.8" fill="none" stroke="#4e2760" stroke-width="2.6" stroke-linecap="round" stroke-linejoin="round" />
<circle cx="92.9" cy="699.2" r="0.9" fill="#fff"/>
<rect x="132.15" y="595.15" width="3.3" height="3.3" fill="#3a6652" />
<rect x="132.15" y="609.15" width="3.3" height="3.3" fill="#3a6652" />
<rect x="122.35" y="612.55" width="3.3" height="3.3" fill="#3a6652" />
<rect x="141.65" y="613.35" width="3.3" height="3.3" fill="#3a6652" />
<rect x="129.15" y="615.25" width="3.3" height="3.3" fill="#3a6652" />
<rect x="125.75" y="619.05" width="3.3" height="3.3" fill="#3a6652" />
<rect x="135.15" y="617.55" width="3.3" height="3.3" fill="#3a6652" />
<rect x="138.55" y="622.05" width="3.3" height="3.3" fill="#3a6652" />
<rect x="132.15" y="625.05" width="3.3" height="3.3" fill="#3a6652" />
<rect x="121.55" y="626.65" width="3.3" height="3.3" fill="#3a6652" />
<rect x="142.75" y="626.25" width="3.3" height="3.3" fill="#3a6652" />
<rect x="139.35" y="628.55" width="3.3" height="3.3" fill="#3a6652" />
<rect x="124.95" y="629.25" width="3.3" height="3.3" fill="#3a6652" />
<path d="M121 633.5 L127 631 Q134 633.5 141 631 L146.7 633.5 L146.7 638.6 Q134 644 121 638.6 Z" fill="#3a6652"/>
<rect x="132.9" y="635.7" width="1.8" height="1.8" fill="#fff" />
<path d="M121 648.4 L126.8 648.4 Q133.6 655 140.6 648.4 L146.3 648.4 L146.3 697.8 L133.6 704.2 L121 697.8 Z" fill="#3a6652"/>
<path d="M120.6 656 l2.6 1.5 l-2.6 1.5 Z M146.7 656 l-2.6 1.5 l2.6 1.5 Z" fill="#fff"/>
<path d="M120.6 666.5 l2.6 1.5 l-2.6 1.5 Z M146.7 666.5 l-2.6 1.5 l2.6 1.5 Z" fill="#fff"/>
<path d="M120.6 674.5 l2.6 1.5 l-2.6 1.5 Z M146.7 674.5 l-2.6 1.5 l2.6 1.5 Z" fill="#fff"/>
<path d="M120.6 680 l2.6 1.5 l-2.6 1.5 Z M146.7 680 l-2.6 1.5 l2.6 1.5 Z" fill="#fff"/>
<path d="M120.6 685.5 l2.6 1.5 l-2.6 1.5 Z M146.7 685.5 l-2.6 1.5 l2.6 1.5 Z" fill="#fff"/>
<path d="M120.6 690.5 l2.6 1.5 l-2.6 1.5 Z M146.7 690.5 l-2.6 1.5 l2.6 1.5 Z" fill="#fff"/>
<path d="M120.6 695 l2.6 1.5 l-2.6 1.5 Z M146.7 695 l-2.6 1.5 l2.6 1.5 Z" fill="#fff"/>
<rect x="132.6" y="658" width="2" height="1.8" fill="#fff" />
<rect x="132.6" y="671" width="2" height="1.8" fill="#fff" />
<rect x="132.6" y="677.7" width="2" height="1.8" fill="#fff" />
<rect x="132.6" y="683.6" width="2" height="1.8" fill="#fff" />
<rect x="132.6" y="689.9" width="2" height="1.8" fill="#fff" />
<path d="M129.8 664.4 Q131.89 665.8 133.6 665.8 Q135.31 665.8 137.4 664.4" fill="none" stroke="#fff" stroke-width="1.1" stroke-linecap="round" stroke-linejoin="round" />
<path d="M130.3 697.2 Q132.12 698.6 133.6 698.6 Q135.09 698.6 136.9 697.2" fill="none" stroke="#fff" stroke-width="1.1" stroke-linecap="round" stroke-linejoin="round" />
<line x1="120.2" y1="669.2" x2="121.5" y2="669.2" stroke="#231f20" stroke-width="1" />
<line x1="145.8" y1="669.2" x2="147.5" y2="669.2" stroke="#231f20" stroke-width="1" />
<line x1="92.9" y1="702.9" x2="92.9" y2="705.6" stroke="#231f20" stroke-width="1" />
<line x1="133.6" y1="702.9" x2="133.6" y2="705.6" stroke="#231f20" stroke-width="1" />
<text x="88.3" y="716.7" font-size="8.7" stroke="#231f20" stroke-width="0.18" textLength="8.8" lengthAdjust="spacingAndGlyphs" >AI</text>
<text x="129.4" y="716.7" font-size="8.7" stroke="#231f20" stroke-width="0.18" textLength="8.8" lengthAdjust="spacingAndGlyphs" >ID</text>
<text x="242.4" y="578.8" font-size="12.6" font-weight="bold" fill="#000" >I</text>
<line x1="301.1" y1="600" x2="301.1" y2="703.5" stroke="#111" stroke-width="1.2" />
<line x1="300.6" y1="703" x2="392" y2="703" stroke="#111" stroke-width="1.2" />
<line x1="297.9" y1="703" x2="301.1" y2="703" stroke="#231f20" stroke-width="1" />
<text x="295.3" y="705.9" font-size="8.5" text-anchor="end" stroke="#231f20" stroke-width="0.18" >0</text>
<line x1="297.9" y1="678.19" x2="301.1" y2="678.19" stroke="#231f20" stroke-width="1" />
<text x="295.3" y="681.09" font-size="8.5" text-anchor="end" stroke="#231f20" stroke-width="0.18" >1</text>
<line x1="297.9" y1="653.38" x2="301.1" y2="653.38" stroke="#231f20" stroke-width="1" />
<text x="295.3" y="656.28" font-size="8.5" text-anchor="end" stroke="#231f20" stroke-width="0.18" >2</text>
<line x1="297.9" y1="628.57" x2="301.1" y2="628.57" stroke="#231f20" stroke-width="1" />
<text x="295.3" y="631.47" font-size="8.5" text-anchor="end" stroke="#231f20" stroke-width="0.18" >3</text>
<line x1="297.9" y1="603.76" x2="301.1" y2="603.76" stroke="#231f20" stroke-width="1" />
<text x="295.3" y="606.66" font-size="8.5" text-anchor="end" stroke="#231f20" stroke-width="0.18" >4</text>
<rect x="314.2" y="620" width="25.8" height="83" fill="#4e2760" />
<rect x="352.6" y="643.8" width="26.2" height="59.2" fill="#3a6652" />
<line x1="327.1" y1="620" x2="327.1" y2="617" stroke="#231f20" stroke-width="1.1" />
<line x1="320.1" y1="617" x2="334.1" y2="617" stroke="#231f20" stroke-width="1.1" />
<line x1="365.7" y1="643.8" x2="365.7" y2="636.3" stroke="#231f20" stroke-width="1.1" />
<line x1="359.2" y1="636.3" x2="372.2" y2="636.3" stroke="#231f20" stroke-width="1.1" />
<path d="M365.7 628.85 l0 2.3 M364.7 629.42 l2 1.16 M364.7 630.58 l2 -1.16" stroke="#231f20" stroke-width="0.75" stroke-linecap="round"/>
<line x1="327.1" y1="703" x2="327.1" y2="705.5" stroke="#231f20" stroke-width="1" />
<line x1="365.7" y1="703" x2="365.7" y2="705.5" stroke="#231f20" stroke-width="1" />
<text x="321.5" y="715.8" font-size="8.7" stroke="#231f20" stroke-width="0.18" textLength="11.8" lengthAdjust="spacingAndGlyphs" >WT</text>
<text x="346.3" y="715.8" font-size="8.7" font-style="italic" fill="#231f20" stroke="#231f20" stroke-width="0.18" textLength="31.5" lengthAdjust="spacingAndGlyphs">Tmprss6</text>
<text x="378.2" y="711.8" font-size="5.6" font-style="italic" stroke="#231f20" stroke-width="0.18" textLength="6" lengthAdjust="spacingAndGlyphs" >-/-</text>
<text transform="translate(283.9 683.6) rotate(-90)" x="0" y="0" font-size="9.6" stroke="#231f20" stroke-width="0.18" textLength="64.8" lengthAdjust="spacingAndGlyphs" >Proliferation index</text>
<rect x="0.6" y="0.6" width="518.8" height="724.8" fill="none" stroke="#000" stroke-width="1.3"/>
</svg>
</body></html>
